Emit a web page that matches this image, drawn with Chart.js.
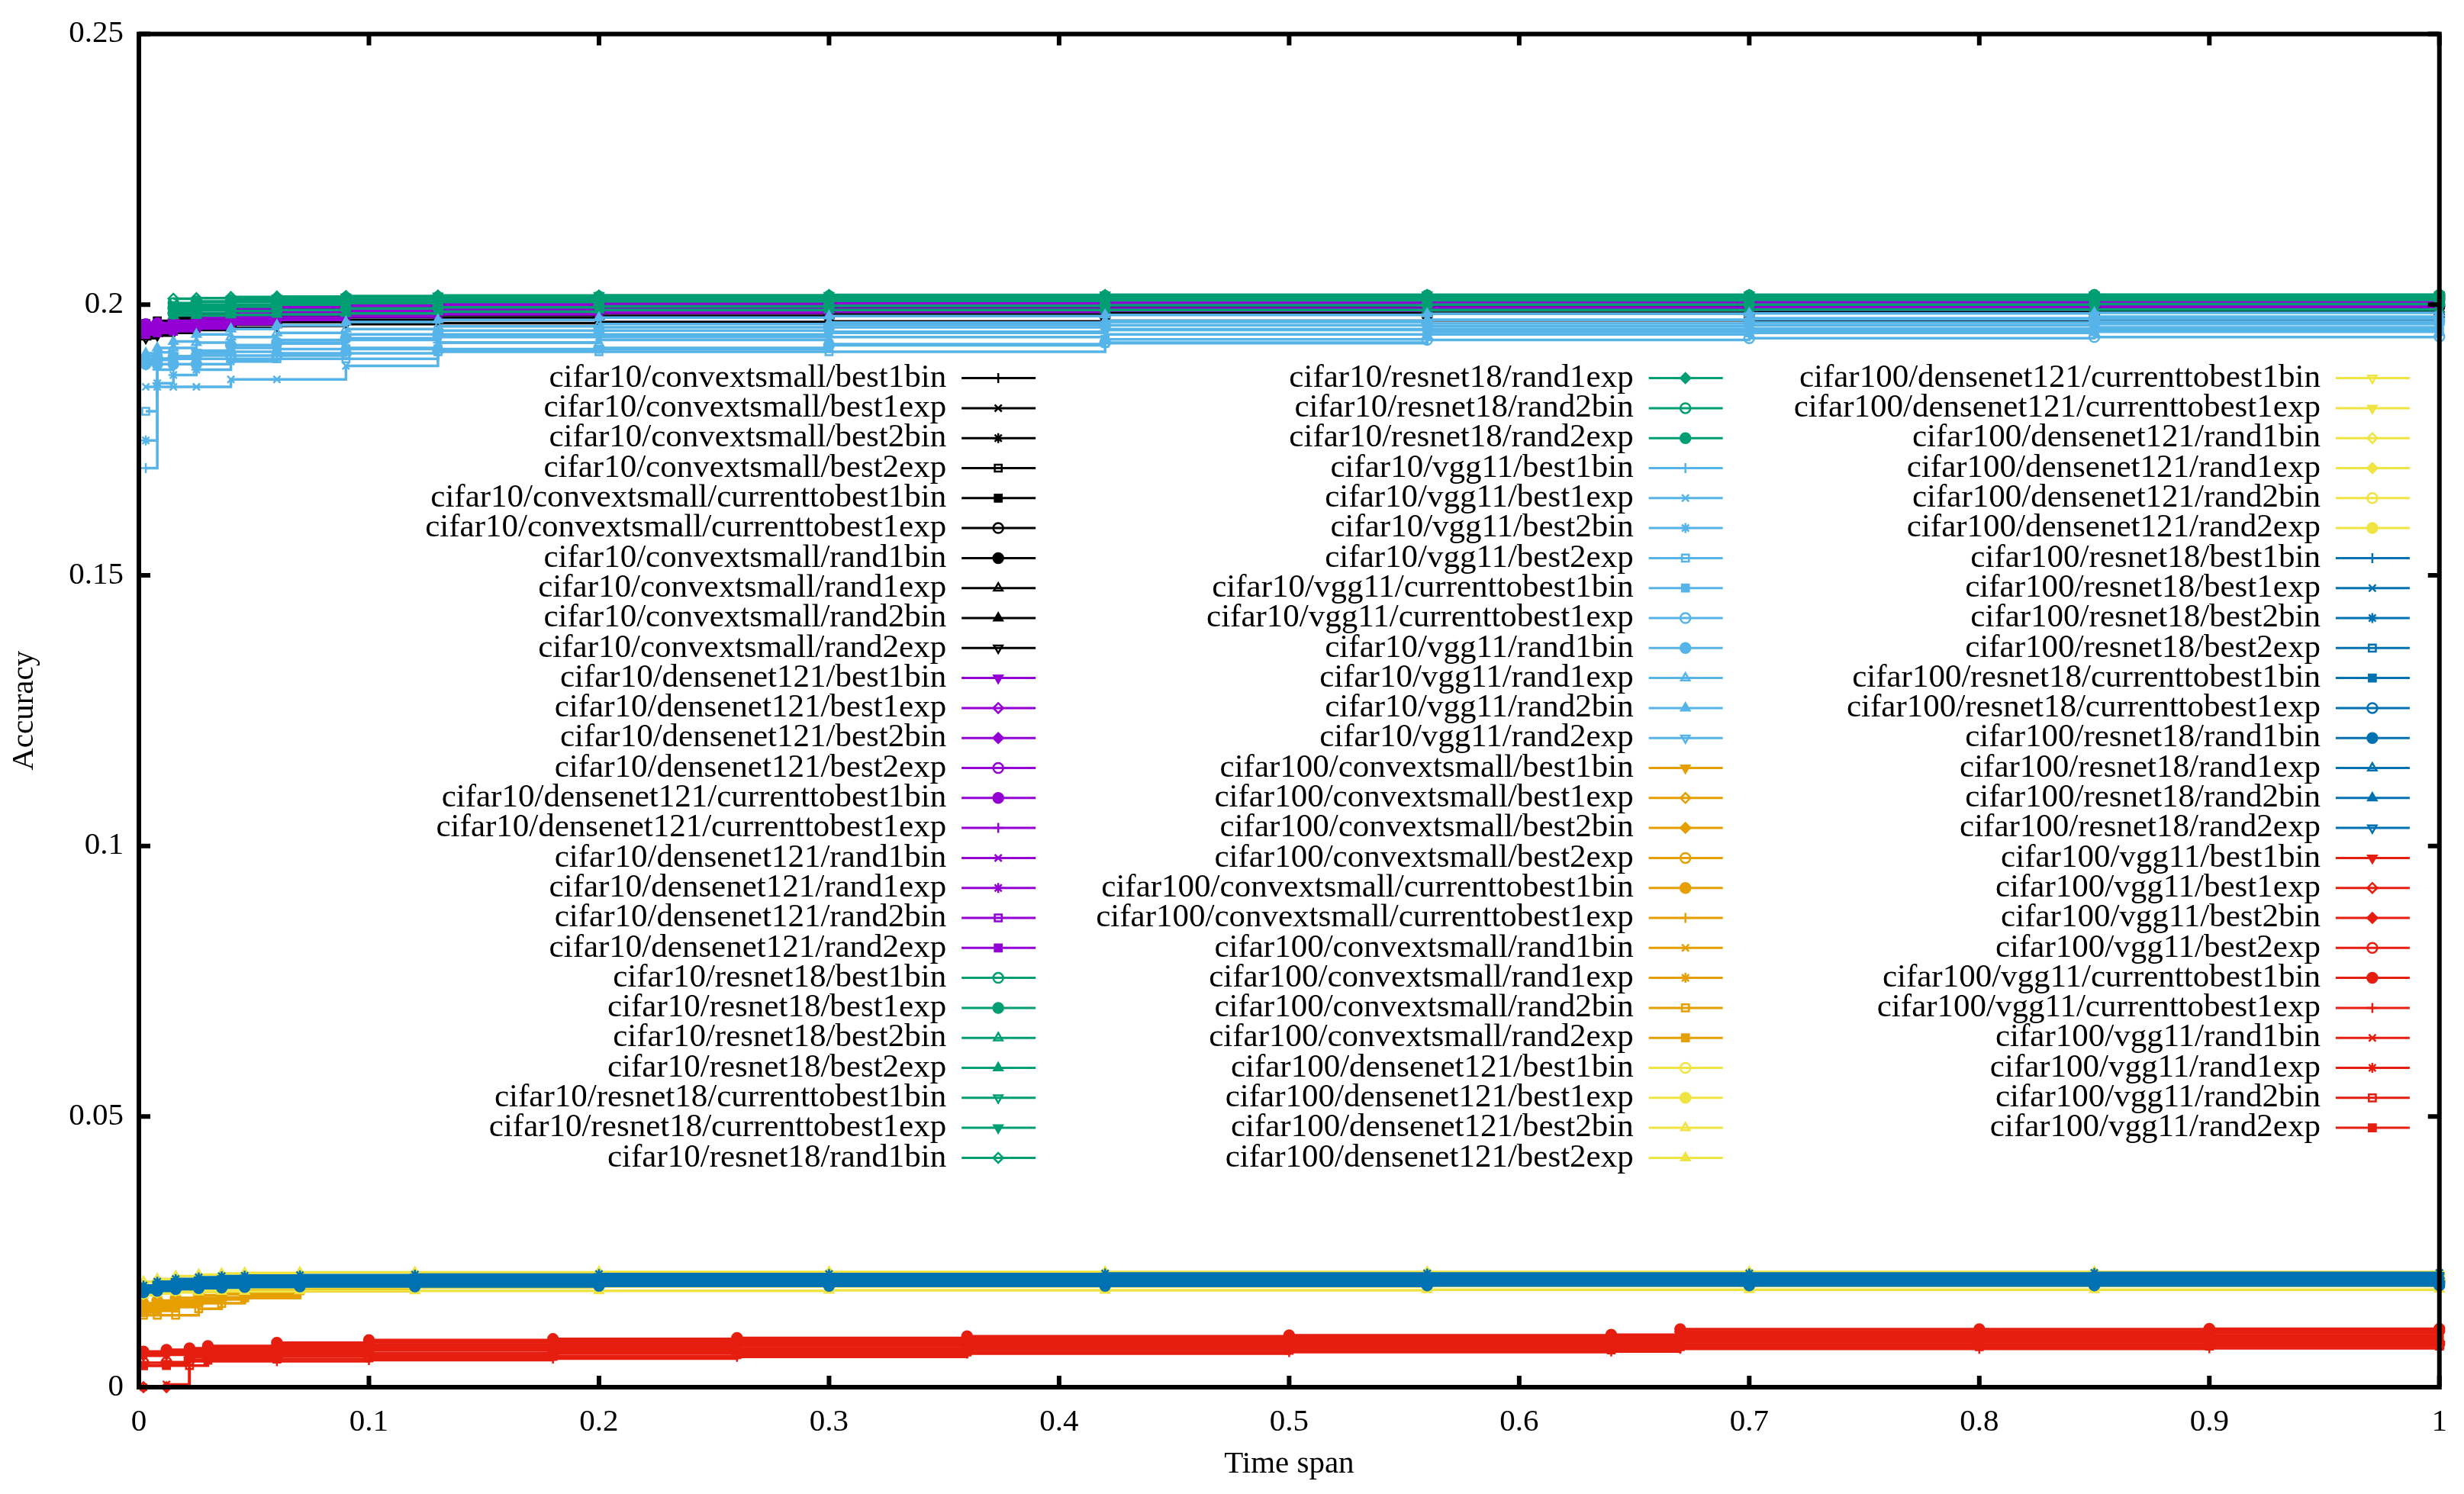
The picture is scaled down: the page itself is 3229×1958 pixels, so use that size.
<!DOCTYPE html>
<html>
<head>
<meta charset="utf-8">
<script src="https://cdn.jsdelivr.net/npm/chart.js@4.4.1/dist/chart.umd.min.js"></script>
<style>
  html, body { margin: 0; padding: 0; background: #fff; }
  #wrap { width: 3229px; height: 1958px; }
</style>
</head>
<body>
<div id="wrap"><canvas id="chart" width="3229" height="1958"></canvas></div>
<script>
// sample positions on the time axis where values were read
var topSpan = [0.003, 0.008, 0.015, 0.025, 0.04, 0.06, 0.09, 0.13, 0.2, 0.3, 0.42, 0.56, 0.7, 0.85, 1];
var lowSpan = [0.002, 0.008, 0.016, 0.026, 0.036, 0.046, 0.07, 0.12, 0.2, 0.3, 0.42, 0.56, 0.7, 0.85, 1];
var redSpan = [0.002, 0.012, 0.022, 0.03, 0.06, 0.1, 0.18, 0.26, 0.36, 0.5, 0.64, 0.67, 0.8, 0.9, 1];

var strategies = ['best1bin', 'best1exp', 'best2bin', 'best2exp', 'currenttobest1bin',
  'currenttobest1exp', 'rand1bin', 'rand1exp', 'rand2bin', 'rand2exp'];

var groupNames = ['cifar10/convextsmall', 'cifar10/densenet121', 'cifar10/resnet18', 'cifar10/vgg11',
  'cifar100/convextsmall', 'cifar100/densenet121', 'cifar100/resnet18', 'cifar100/vgg11'];
var groupColors = ['#000000', '#9400d3', '#009e73', '#56b4e9', '#e69f00', '#f0e442', '#0072b2', '#e51e10'];

var c10Convextsmall = [
  [0.1962, 0.1966, 0.1972, 0.1980, 0.1986, 0.1990, 0.1994, 0.1997, 0.1999, 0.2001, 0.2002, 0.2003, 0.2004, 0.2004, 0.2005],
  [0.1955, 0.1960, 0.1966, 0.1973, 0.1981, 0.1987, 0.1992, 0.1995, 0.1998, 0.2000, 0.2001, 0.2002, 0.2002, 0.2003, 0.2003],
  [0.1958, 0.1963, 0.1970, 0.1978, 0.1984, 0.1989, 0.1993, 0.1996, 0.1999, 0.2002, 0.2004, 0.2005, 0.2006, 0.2007, 0.2008],
  [0.1950, 0.1955, 0.1962, 0.1970, 0.1978, 0.1984, 0.1988, 0.1992, 0.1995, 0.1997, 0.1998, 0.1999, 0.2000, 0.2000, 0.2001],
  [0.1965, 0.1970, 0.1976, 0.1982, 0.1988, 0.1992, 0.1995, 0.1997, 0.1998, 0.1999, 0.2000, 0.2000, 0.2001, 0.2001, 0.2001],
  [0.1948, 0.1952, 0.1958, 0.1965, 0.1972, 0.1978, 0.1984, 0.1988, 0.1991, 0.1994, 0.1996, 0.1997, 0.1998, 0.1998, 0.1999],
  [0.1952, 0.1957, 0.1963, 0.1969, 0.1975, 0.1980, 0.1984, 0.1987, 0.1990, 0.1992, 0.1993, 0.1994, 0.1995, 0.1995, 0.1996],
  [0.1945, 0.1950, 0.1955, 0.1960, 0.1966, 0.1972, 0.1977, 0.1981, 0.1984, 0.1987, 0.1989, 0.1990, 0.1991, 0.1992, 0.1992],
  [0.1940, 0.1946, 0.1952, 0.1958, 0.1963, 0.1968, 0.1972, 0.1976, 0.1979, 0.1982, 0.1984, 0.1985, 0.1986, 0.1987, 0.1987],
  [0.1938, 0.1943, 0.1948, 0.1953, 0.1957, 0.1961, 0.1964, 0.1966, 0.1968, 0.1969, 0.1970, 0.1971, 0.1971, 0.1972, 0.1972]
];
var c10Densenet121 = [
  [0.1960, 0.1963, 0.1968, 0.1975, 0.1990, 0.1998, 0.2003, 0.2006, 0.2008, 0.2010, 0.2011, 0.2012, 0.2013, 0.2014, 0.2015],
  [0.1955, 0.1958, 0.1962, 0.1970, 0.1985, 0.1995, 0.2000, 0.2003, 0.2005, 0.2007, 0.2008, 0.2009, 0.2010, 0.2010, 0.2011],
  [0.1958, 0.1961, 0.1965, 0.1978, 0.1992, 0.2000, 0.2004, 0.2007, 0.2009, 0.2010, 0.2011, 0.2012, 0.2012, 0.2013, 0.2013],
  [0.1952, 0.1955, 0.1960, 0.1968, 0.1980, 0.1990, 0.1996, 0.1999, 0.2001, 0.2003, 0.2004, 0.2005, 0.2006, 0.2006, 0.2007],
  [0.1964, 0.1966, 0.1970, 0.1980, 0.1993, 0.2001, 0.2005, 0.2008, 0.2010, 0.2012, 0.2013, 0.2014, 0.2015, 0.2015, 0.2016],
  [0.1950, 0.1953, 0.1958, 0.1965, 0.1976, 0.1985, 0.1991, 0.1995, 0.1998, 0.2000, 0.2001, 0.2002, 0.2003, 0.2003, 0.2004],
  [0.1948, 0.1951, 0.1955, 0.1962, 0.1972, 0.1981, 0.1987, 0.1991, 0.1994, 0.1996, 0.1998, 0.1999, 0.2000, 0.2000, 0.2001],
  [0.1946, 0.1949, 0.1953, 0.1959, 0.1968, 0.1976, 0.1982, 0.1986, 0.1989, 0.1991, 0.1993, 0.1994, 0.1995, 0.1996, 0.1996],
  [0.1945, 0.1948, 0.1951, 0.1956, 0.1964, 0.1972, 0.1978, 0.1982, 0.1985, 0.1987, 0.1989, 0.1990, 0.1991, 0.1992, 0.1992],
  [0.1950, 0.1954, 0.1959, 0.1966, 0.1977, 0.1986, 0.1992, 0.1996, 0.1999, 0.2001, 0.2003, 0.2004, 0.2005, 0.2006, 0.2006]
];
var c10Resnet18 = [
  [null, null, 0.1995, 0.2000, 0.2005, 0.2008, 0.2010, 0.2012, 0.2014, 0.2015, 0.2016, 0.2017, 0.2017, 0.2018, 0.2018],
  [null, null, 0.1985, 0.1990, 0.1996, 0.2000, 0.2004, 0.2006, 0.2008, 0.2009, 0.2010, 0.2011, 0.2011, 0.2012, 0.2012],
  [null, null, 0.1980, 0.1980, 0.1981, 0.1982, 0.1984, 0.1987, 0.1990, 0.1990, 0.1990, 0.1990, 0.1991, 0.1991, 0.1991],
  [null, null, 0.1990, 0.1995, 0.2000, 0.2004, 0.2007, 0.2010, 0.2012, 0.2013, 0.2014, 0.2015, 0.2015, 0.2016, 0.2016],
  [null, null, 0.1988, 0.1993, 0.1998, 0.2002, 0.2005, 0.2008, 0.2010, 0.2011, 0.2012, 0.2013, 0.2013, 0.2014, 0.2014],
  [null, null, 0.2000, 0.2005, 0.2010, 0.2012, 0.2014, 0.2016, 0.2017, 0.2017, 0.2018, 0.2018, 0.2018, 0.2018, 0.2018],
  [null, null, 0.2011, 0.2012, 0.2014, 0.2015, 0.2016, 0.2017, 0.2017, 0.2018, 0.2018, 0.2018, 0.2018, 0.2018, 0.2018],
  [null, null, 0.1992, 0.1996, 0.1999, 0.2001, 0.2003, 0.2005, 0.2006, 0.2007, 0.2008, 0.2008, 0.2009, 0.2009, 0.2009],
  [null, null, 0.2003, 0.2006, 0.2009, 0.2011, 0.2013, 0.2014, 0.2015, 0.2016, 0.2016, 0.2017, 0.2017, 0.2017, 0.2017],
  [null, null, 0.1983, 0.1985, 0.1988, 0.1990, 0.1993, 0.1995, 0.1997, 0.1998, 0.1999, 0.2000, 0.2000, 0.2001, 0.2001]
];
var c10Vgg11 = [
  [0.1698, 0.1880, 0.1905, 0.1915, 0.1925, 0.1935, 0.1945, 0.1952, 0.1958, 0.1963, 0.1968, 0.1972, 0.1975, 0.1978, 0.1980],
  [0.1848, 0.1848, 0.1848, 0.1848, 0.1862, 0.1862, 0.1887, 0.1930, 0.1935, 0.1940, 0.1945, 0.1950, 0.1955, 0.1958, 0.1960],
  [0.1749, 0.1855, 0.1870, 0.1880, 0.1895, 0.1910, 0.1920, 0.1930, 0.1940, 0.1948, 0.1955, 0.1960, 0.1962, 0.1964, 0.1965],
  [0.1803, 0.1900, 0.1900, 0.1900, 0.1900, 0.1900, 0.1900, 0.1913, 0.1913, 0.1913, 0.1929, 0.1945, 0.1948, 0.1950, 0.1950],
  [0.1900, 0.1900, 0.1905, 0.1910, 0.1913, 0.1918, 0.1918, 0.1918, 0.1918, 0.1927, 0.1936, 0.1945, 0.1950, 0.1953, 0.1955],
  [0.1895, 0.1900, 0.1903, 0.1906, 0.1906, 0.1906, 0.1910, 0.1915, 0.1920, 0.1925, 0.1930, 0.1935, 0.1938, 0.1940, 0.1941],
  [0.1890, 0.1890, 0.1890, 0.1890, 0.1925, 0.1930, 0.1938, 0.1945, 0.1952, 0.1958, 0.1962, 0.1965, 0.1967, 0.1969, 0.1970],
  [0.1905, 0.1912, 0.1920, 0.1930, 0.1940, 0.1948, 0.1955, 0.1960, 0.1964, 0.1967, 0.1970, 0.1972, 0.1973, 0.1974, 0.1975],
  [0.1910, 0.1920, 0.1932, 0.1945, 0.1955, 0.1962, 0.1968, 0.1972, 0.1976, 0.1979, 0.1981, 0.1983, 0.1984, 0.1985, 0.1985],
  [0.1890, 0.1898, 0.1905, 0.1912, 0.1920, 0.1928, 0.1935, 0.1940, 0.1945, 0.1950, 0.1953, 0.1955, 0.1956, 0.1957, 0.1958]
];
var c100Convextsmall = [
  [0.0150, 0.0155, 0.0160, 0.0165, 0.0172, 0.0180, 0.0186, 0.0190, 0.0192, 0.0194, 0.0195, 0.0196, 0.0196, 0.0197, 0.0197],
  [0.0145, 0.0150, 0.0155, 0.0160, 0.0165, 0.0170, 0.0182, 0.0188, 0.0191, 0.0193, 0.0194, 0.0195, 0.0195, 0.0196, 0.0196],
  [0.0152, 0.0156, 0.0160, 0.0162, 0.0164, 0.0165, 0.0180, 0.0187, 0.0190, 0.0192, 0.0193, 0.0194, 0.0195, 0.0195, 0.0195],
  [0.0140, 0.0146, 0.0152, 0.0158, 0.0165, 0.0175, 0.0184, 0.0189, 0.0192, 0.0193, 0.0194, 0.0195, 0.0196, 0.0196, 0.0196],
  [0.0155, 0.0160, 0.0165, 0.0170, 0.0175, 0.0180, 0.0185, 0.0189, 0.0191, 0.0193, 0.0194, 0.0195, 0.0195, 0.0196, 0.0196],
  [0.0148, 0.0150, 0.0153, 0.0158, 0.0163, 0.0170, 0.0180, 0.0186, 0.0190, 0.0192, 0.0193, 0.0194, 0.0194, 0.0195, 0.0195],
  [0.0141, 0.0141, 0.0148, 0.0155, 0.0162, 0.0168, 0.0178, 0.0185, 0.0189, 0.0191, 0.0192, 0.0193, 0.0194, 0.0194, 0.0195],
  [0.0150, 0.0152, 0.0155, 0.0160, 0.0166, 0.0172, 0.0182, 0.0188, 0.0191, 0.0193, 0.0194, 0.0195, 0.0195, 0.0196, 0.0196],
  [0.0133, 0.0133, 0.0133, 0.0145, 0.0155, 0.0165, 0.0178, 0.0185, 0.0189, 0.0191, 0.0192, 0.0193, 0.0193, 0.0194, 0.0194],
  [0.0138, 0.0143, 0.0150, 0.0157, 0.0163, 0.0170, 0.0181, 0.0187, 0.0190, 0.0192, 0.0193, 0.0194, 0.0195, 0.0195, 0.0196]
];
var c100Densenet121 = [
  [0.0180, 0.0185, 0.0190, 0.0193, 0.0195, 0.0197, 0.0198, 0.0199, 0.0200, 0.0200, 0.0201, 0.0201, 0.0201, 0.0202, 0.0202],
  [0.0175, 0.0178, 0.0182, 0.0186, 0.0189, 0.0191, 0.0193, 0.0195, 0.0196, 0.0197, 0.0197, 0.0198, 0.0198, 0.0198, 0.0199],
  [0.0195, 0.0200, 0.0205, 0.0208, 0.0210, 0.0211, 0.0212, 0.0212, 0.0213, 0.0213, 0.0213, 0.0213, 0.0213, 0.0213, 0.0213],
  [0.0170, 0.0173, 0.0175, 0.0176, 0.0177, 0.0177, 0.0178, 0.0178, 0.0178, 0.0179, 0.0179, 0.0180, 0.0180, 0.0180, 0.0181],
  [0.0182, 0.0188, 0.0193, 0.0196, 0.0198, 0.0200, 0.0201, 0.0202, 0.0203, 0.0203, 0.0204, 0.0204, 0.0204, 0.0205, 0.0205],
  [0.0178, 0.0183, 0.0188, 0.0191, 0.0193, 0.0195, 0.0196, 0.0197, 0.0198, 0.0199, 0.0199, 0.0200, 0.0200, 0.0200, 0.0200],
  [0.0185, 0.0190, 0.0195, 0.0198, 0.0200, 0.0202, 0.0203, 0.0204, 0.0205, 0.0206, 0.0206, 0.0207, 0.0207, 0.0207, 0.0208],
  [0.0172, 0.0175, 0.0178, 0.0180, 0.0182, 0.0183, 0.0184, 0.0185, 0.0186, 0.0186, 0.0186, 0.0187, 0.0187, 0.0187, 0.0187],
  [0.0188, 0.0193, 0.0197, 0.0200, 0.0202, 0.0204, 0.0205, 0.0206, 0.0207, 0.0208, 0.0208, 0.0209, 0.0209, 0.0209, 0.0209],
  [0.0176, 0.0180, 0.0184, 0.0187, 0.0190, 0.0192, 0.0193, 0.0194, 0.0195, 0.0196, 0.0196, 0.0197, 0.0197, 0.0197, 0.0198]
];
var c100Resnet18 = [
  [0.0185, 0.0192, 0.0197, 0.0200, 0.0202, 0.0203, 0.0204, 0.0205, 0.0206, 0.0207, 0.0207, 0.0208, 0.0208, 0.0208, 0.0209],
  [0.0180, 0.0186, 0.0190, 0.0193, 0.0195, 0.0196, 0.0197, 0.0198, 0.0199, 0.0199, 0.0200, 0.0200, 0.0200, 0.0201, 0.0201],
  [0.0188, 0.0195, 0.0200, 0.0203, 0.0205, 0.0206, 0.0207, 0.0208, 0.0209, 0.0209, 0.0210, 0.0210, 0.0210, 0.0211, 0.0211],
  [0.0176, 0.0180, 0.0184, 0.0187, 0.0189, 0.0190, 0.0191, 0.0192, 0.0193, 0.0193, 0.0194, 0.0194, 0.0194, 0.0195, 0.0195],
  [0.0182, 0.0188, 0.0192, 0.0195, 0.0197, 0.0198, 0.0199, 0.0200, 0.0201, 0.0202, 0.0202, 0.0203, 0.0203, 0.0203, 0.0204],
  [0.0178, 0.0182, 0.0186, 0.0188, 0.0189, 0.0190, 0.0190, 0.0191, 0.0191, 0.0191, 0.0191, 0.0192, 0.0192, 0.0192, 0.0192],
  [0.0175, 0.0178, 0.0181, 0.0183, 0.0184, 0.0185, 0.0186, 0.0186, 0.0187, 0.0187, 0.0187, 0.0188, 0.0188, 0.0188, 0.0188],
  [0.0183, 0.0189, 0.0194, 0.0197, 0.0199, 0.0200, 0.0201, 0.0202, 0.0203, 0.0204, 0.0204, 0.0205, 0.0205, 0.0205, 0.0206],
  [0.0179, 0.0184, 0.0188, 0.0191, 0.0193, 0.0194, 0.0195, 0.0196, 0.0196, 0.0197, 0.0197, 0.0197, 0.0198, 0.0198, 0.0198],
  [0.0177, 0.0181, 0.0185, 0.0187, 0.0188, 0.0189, 0.0190, 0.0190, 0.0190, 0.0191, 0.0191, 0.0191, 0.0191, 0.0191, 0.0191]
];
var c100Vgg11 = [
  [0.0058, 0.0060, 0.0063, 0.0067, 0.0071, 0.0075, 0.0078, 0.0080, 0.0083, 0.0086, 0.0087, 0.0095, 0.0095, 0.0096, 0.0096],
  [0.0000, 0.0000, 0.0055, 0.0058, 0.0061, 0.0063, 0.0066, 0.0068, 0.0073, 0.0075, 0.0076, 0.0083, 0.0083, 0.0084, 0.0084],
  [0.0063, 0.0066, 0.0069, 0.0073, 0.0078, 0.0083, 0.0085, 0.0087, 0.0090, 0.0093, 0.0094, 0.0103, 0.0103, 0.0104, 0.0104],
  [0.0045, 0.0046, 0.0050, 0.0054, 0.0057, 0.0059, 0.0062, 0.0064, 0.0069, 0.0072, 0.0073, 0.0079, 0.0079, 0.0080, 0.0080],
  [0.0066, 0.0069, 0.0072, 0.0076, 0.0082, 0.0087, 0.0089, 0.0091, 0.0094, 0.0096, 0.0097, 0.0107, 0.0107, 0.0108, 0.0108],
  [0.0000, 0.0000, 0.0048, 0.0048, 0.0048, 0.0050, 0.0053, 0.0056, 0.0062, 0.0065, 0.0066, 0.0071, 0.0071, 0.0072, 0.0072],
  [0.0000, 0.0005, 0.0060, 0.0064, 0.0068, 0.0072, 0.0074, 0.0076, 0.0080, 0.0082, 0.0083, 0.0091, 0.0091, 0.0092, 0.0092],
  [0.0060, 0.0063, 0.0066, 0.0070, 0.0074, 0.0079, 0.0081, 0.0084, 0.0087, 0.0089, 0.0090, 0.0099, 0.0099, 0.0100, 0.0100],
  [0.0040, 0.0040, 0.0040, 0.0050, 0.0052, 0.0054, 0.0057, 0.0060, 0.0065, 0.0068, 0.0069, 0.0075, 0.0075, 0.0076, 0.0076],
  [0.0040, 0.0042, 0.0058, 0.0061, 0.0065, 0.0068, 0.0070, 0.0072, 0.0076, 0.0079, 0.0080, 0.0087, 0.0087, 0.0088, 0.0088]
];

var groupValues = [c10Convextsmall, c10Densenet121, c10Resnet18, c10Vgg11,
  c100Convextsmall, c100Densenet121, c100Resnet18, c100Vgg11];
var groupSpans = [topSpan, topSpan, topSpan, topSpan, lowSpan, lowSpan, lowSpan, redSpan];

var yTicks = [0, 0.05, 0.1, 0.15, 0.2, 0.25];
var xTicks = [0, 0.1, 0.2, 0.3, 0.4, 0.5, 0.6, 0.7, 0.8, 0.9, 1];

// gnuplot point types 1..15, in order
var pointTypes = [
  { style: 'cross', fill: false, rot: 0 },
  { style: 'crossRot', fill: false, rot: 0 },
  { style: 'star', fill: false, rot: 0 },
  { style: 'rect', fill: false, rot: 0 },
  { style: 'rect', fill: true, rot: 0 },
  { style: 'circle', fill: false, rot: 0 },
  { style: 'circle', fill: true, rot: 0 },
  { style: 'triangle', fill: false, rot: 0 },
  { style: 'triangle', fill: true, rot: 0 },
  { style: 'triangle', fill: false, rot: 180 },
  { style: 'triangle', fill: true, rot: 180 },
  { style: 'rectRot', fill: false, rot: 0 },
  { style: 'rectRot', fill: true, rot: 0 },
  { style: 'circle', fill: false, rot: 0 },
  { style: 'circle', fill: true, rot: 0 }
];

var FONT = '"Liberation Serif", "Times New Roman", serif';
Chart.defaults.font.family = FONT;
Chart.defaults.color = '#000';

var datasets = [];
groupNames.forEach(function (g, gi) {
  strategies.forEach(function (s, si) {
    var idx = datasets.length;
    var pt = pointTypes[idx % pointTypes.length];
    var color = groupColors[gi];
    var span = groupSpans[gi];
    var ys = groupValues[gi][si];
    datasets.push({
      label: g + '/' + s,
      data: span.map(function (x, k) { return { x: x, y: ys[k] }; }),
      borderColor: color,
      backgroundColor: color,
      borderWidth: 3.5,
      stepped: 'before',
      pointStyle: pt.style,
      pointRotation: pt.rot,
      pointRadius: 6.5,
      pointBorderWidth: 2.5,
      pointBorderColor: color,
      pointBackgroundColor: pt.fill ? color : 'rgba(0,0,0,0)',
      order: -idx,
      clip: 8,
      _pt: pt
    });
  });
});

// box with inward tick marks on all four sides
var frame = {
  id: 'frame',
  afterDatasetsDraw: function (chart) {
    var ctx = chart.ctx, a = chart.chartArea;
    var sx = chart.scales.x, sy = chart.scales.y;
    ctx.save();
    ctx.strokeStyle = '#000';
    ctx.lineWidth = 6;
    ctx.strokeRect(a.left, a.top, a.right - a.left, a.bottom - a.top);
    ctx.beginPath();
    xTicks.forEach(function (v) {
      var px = sx.getPixelForValue(v);
      ctx.moveTo(px, a.bottom); ctx.lineTo(px, a.bottom - 15);
      ctx.moveTo(px, a.top); ctx.lineTo(px, a.top + 15);
    });
    yTicks.forEach(function (v) {
      var py = sy.getPixelForValue(v);
      ctx.moveTo(a.left, py); ctx.lineTo(a.left + 15, py);
      ctx.moveTo(a.right, py); ctx.lineTo(a.right - 15, py);
    });
    ctx.stroke();
    ctx.restore();
  }
};

// gnuplot style key: three columns, text right aligned, sample to the right
var key = {
  id: 'key',
  afterDraw: function (chart) {
    var ctx = chart.ctx, a = chart.chartArea;
    var w = a.right - a.left;
    var colRight = [0.351, 0.6497, 0.9483];
    var rowTop = a.top + 451, rowStep = 39.3;
    ctx.save();
    ctx.font = '43px ' + FONT;
    ctx.textAlign = 'right';
    ctx.textBaseline = 'middle';
    chart.data.datasets.forEach(function (ds, i) {
      var col = i < 27 ? 0 : (i < 54 ? 1 : 2);
      var row = i - col * 27;
      var tx = a.left + colRight[col] * w;
      var ty = rowTop + row * rowStep;
      ctx.fillStyle = '#000';
      ctx.fillText(ds.label, tx, ty);
      ctx.strokeStyle = ds.borderColor;
      ctx.lineWidth = 3;
      ctx.beginPath();
      ctx.moveTo(tx + 20, ty);
      ctx.lineTo(tx + 117, ty);
      ctx.stroke();
      ctx.fillStyle = ds._pt.fill ? ds.borderColor : 'rgba(0,0,0,0)';
      ctx.lineWidth = 2.5;
      Chart.helpers.drawPoint(ctx, {
        pointStyle: ds._pt.style, rotation: ds._pt.rot, radius: 6.5, borderWidth: 2.5
      }, tx + 68, ty);
    });
    ctx.restore();
  }
};

function tickText(v) { return String(+v.toFixed(2)); }

new Chart(document.getElementById('chart').getContext('2d'), {
  type: 'line',
  data: { datasets: datasets },
  plugins: [frame, key],
  options: {
    responsive: false,
    animation: false,
    devicePixelRatio: 1,
    layout: { padding: { top: 28, right: 27, left: 0, bottom: 0 } },
    plugins: { legend: { display: false }, tooltip: { enabled: false } },
    scales: {
      x: {
        type: 'linear', min: 0, max: 1,
        grid: { display: false, drawTicks: false },
        border: { display: false },
        afterBuildTicks: function (s) { s.ticks = xTicks.map(function (v) { return { value: v }; }); },
        ticks: { padding: 22, font: { family: FONT, size: 41 }, color: '#000', callback: tickText, maxRotation: 0 },
        title: { display: true, text: 'Time span', font: { family: FONT, size: 41 }, color: '#000', padding: { top: 0, bottom: 14 } },
        afterFit: function (s) { s.height = 140; }
      },
      y: {
        type: 'linear', min: 0, max: 0.25,
        grid: { display: false, drawTicks: false },
        border: { display: false },
        afterBuildTicks: function (s) { s.ticks = yTicks.map(function (v) { return { value: v }; }); },
        ticks: { padding: 20, font: { family: FONT, size: 41 }, color: '#000', callback: tickText },
        title: { display: true, text: 'Accuracy', font: { family: FONT, size: 41 }, color: '#000', padding: { top: 8, bottom: 0 } },
        afterFit: function (s) { s.width = 182; }
      }
    }
  }
});
</script>
</body>
</html>
